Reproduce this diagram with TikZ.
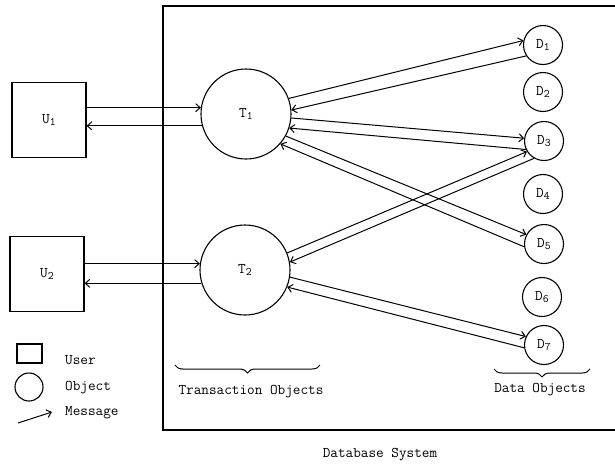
\documentclass[tikz,border=0pt]{standalone}
\usepackage{fontspec}
\usetikzlibrary{arrows.meta,decorations.pathreplacing}
\newcommand{\lowidx}[1]{\raisebox{-0.45ex}{\fontsize{11.5}{11.5}\selectfont #1}}
\begin{document}
\begin{tikzpicture}[x=1pt,y=-1pt,
 every node/.style={font=\fontsize{14.8}{16}\selectfont\ttfamily},
 userbox/.style={draw,line width=1.1pt,minimum width=74pt,minimum height=75pt,inner sep=0pt},
 tobj/.style={draw,circle,line width=1.1pt,minimum size=90pt,inner sep=0pt},
 dobj/.style={draw,circle,line width=1.1pt,minimum size=39pt,inner sep=0pt},
 msg/.style={line width=1pt,-{Straight Barb[length=4.5pt,width=8pt]}},
 frame/.style={line width=1.1pt},
 bracestyle/.style={line width=1pt,decorate,decoration={brace,mirror,amplitude=8pt}},
 lbl/.style={anchor=west,inner sep=0pt}]
\useasboundingbox (0,0) rectangle (615,464);

% system frame
\draw[frame] (615,6) -- (163,6) -- (163,430) -- (615,430);

% users
\node[userbox] (U1) at (49,120) {U\lowidx{1}};
\node[userbox] (U2) at (47,274) {U\lowidx{2}};

% transaction objects
\node[tobj] (T1) at (246,114) {T\lowidx{1}};
\node[tobj] (T2) at (245,270) {T\lowidx{2}};

% data objects
\node[dobj] (D1) at (543,45) {D\lowidx{1}};
\node[dobj] (D2) at (543,92) {D\lowidx{2}};
\node[dobj] (D3) at (544,141) {D\lowidx{3}};
\node[dobj] (D4) at (543,194) {D\lowidx{4}};
\node[dobj] (D5) at (544,244) {D\lowidx{5}};
\node[dobj] (D6) at (542,297) {D\lowidx{6}};
\node[dobj] (D7) at (544,345) {D\lowidx{7}};

% user <-> transaction messages
\draw[msg] (U1.east |- T1.172) -- (T1.172);
\draw[msg] (T1.195) -- (U1.east |- T1.195);
\draw[msg] (U2.east |- T2.172) -- (T2.172);
\draw[msg] (T2.197) -- (U2.east |- T2.197);

% transaction <-> data messages
\draw[msg] (T1.20) -- (D1.167);
\draw[msg] (D1.213) -- (T1.5);
\draw[msg] (T1.-5) -- (D3.172);
\draw[msg] (D3.205) -- (T1.-18);
\draw[msg] (T1.-29) -- (D5.152);
\draw[msg] (D5.188) -- (T1.-41);
\draw[msg] (T2.22) -- (D3.212);
\draw[msg] (D3.240) -- (T2.10);
\draw[msg] (T2.-9) -- (D7.155);
\draw[msg] (D7.188) -- (T2.-22);

% braces and group labels
\coordinate (tbA) at (175,365);
\coordinate (tbB) at (320,365);
\draw[bracestyle] (tbA) -- (tbB);
\node (tlabel) at (251,392) {Transaction Objects};
\coordinate (dbA) at (494,369);
\coordinate (dbB) at (590,369);
\draw[bracestyle] (dbA) -- (dbB);
\node (dlabel) at (540,390) {Data Objects};
\node (syslabel) at (380,455) {Database System};

% legend
\node[draw,line width=1.1pt,minimum width=25pt,minimum height=19pt,inner sep=0pt] (legUser) at (29.5,353.5) {};
\node[draw,circle,line width=1.1pt,minimum size=28pt,inner sep=0pt] (legObj) at (29,387) {};
\coordinate (legA) at (18,423);
\coordinate (legB) at (52,412);
\draw[msg] (legA) -- (legB);
\node[lbl] (legUserT) at (65,360) {User};
\node[lbl] (legObjT) at (65,388) {Object};
\node[lbl] (legMsgT) at (65,413) {Message};
\end{tikzpicture}
\end{document}
